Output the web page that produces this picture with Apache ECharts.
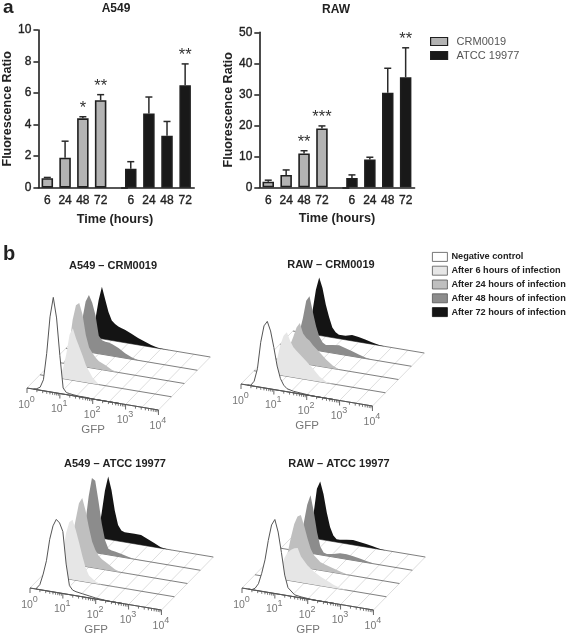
<!DOCTYPE html>
<html><head><meta charset="utf-8">
<style>html,body{margin:0;padding:0;background:#fff}#c{width:567px;height:636px}</style>
<script src="https://cdn.jsdelivr.net/npm/echarts@6/dist/echarts.min.js"></script>
</head><body><div id="c"></div>
<script>
const timeLabels = ['6','24','48','72'];
const strainNames = ['CRM0019','ATCC 19977'];
const a549CrmBars = [0.6,1.9,4.4,5.55];
const a549CrmUpper = [0.65,2.95,4.5,5.9];
const a549CrmStars = ['','','*','**'];
const a549AtccBars = [1.2,4.7,3.3,6.5];
const a549AtccUpper = [1.65,5.75,4.2,7.85];
const a549AtccStars = ['','','','**'];
const rawCrmBars = [1.8,4.0,10.9,19.0];
const rawCrmUpper = [2.3,5.6,11.8,19.8];
const rawCrmStars = ['','','**','***'];
const rawAtccBars = [3.0,9.0,30.5,35.5];
const rawAtccUpper = [4.0,9.7,38.4,45];
const rawAtccStars = ['','','','**'];

const infectionNames = ['Negative control','After 6 hours of infection','After 24 hours of infection','After 48 hours of infection','After 72 hours of infection'];
const gfpDecades = [0.2,0.3,0.4,0.5,0.6,0.7,0.8,0.9,1.0,1.1,1.2,1.3,1.4,1.6,1.8,2.0,2.2,2.4,2.6,2.8];
// counts per histogram, one value per entry of gfpDecades
const a549CrmNeg = [0,1,3,11,38,75,95,75,38,6,2,1.5,1,0.5,0.5,0,0,0,0,0];
const a549Crm6h  = [0,0,0,0,1,10,25,45,52,42,34,26,17,6,0,0,0,0,0,0];
const a549Crm24h = [0,0,5,20,45,60,63,52,32,20,15,11,8,5,1.5,0,0,0,0,0];
const a549Crm48h = [0,2,12,32,50,57,50,38,18,14,13,13,12,9,5,2,0,0,0,0];
const a549Crm72h = [0,0,0,18,38,52,40,28,20,17,15,14,13,10,7,4.5,2,0.5,0,0];
const rawCrmNeg = [0,0.5,5,18,45,62,67,58,42,24,12,6,3,1.5,1,0.5,0,0,0,0];
const rawCrm6h  = [0,0,0,0,3,15,30,40,44,36,30,27,24,18,12,5,1,0,0,0];
const rawCrm24h = [0,0,0,2,8,16,25,35,40,30,26,24,20,14,8,3,0,0,0,0];
const rawCrm48h = [0,0,0,5,16,30,48,53,38,24,14,9,7,8,9,7,5,3,1,0];
const rawCrm72h = [0,0,0,5,24,45,58,48,32,20,10,6,4,4,6,5,3.5,2,0.5,0];
const atccA549Neg = [1,5,16,30,52,66,73,70,62,30,9,5,4,3,2,1,0.5,0,0,0];
const atccA5496h  = [0,0,0,8,25,45,57,60,50,38,25,14,7,2,0,0,0,0,0,0];
const atccA54924h = [0,0,12,28,45,62,68,56,40,26,18,13,10,6,2,0,0,0,0,0];
const atccA54948h = [0,0,8,28,55,74,72,52,30,14,6,5,4.5,3,1.5,0,0,0,0,0];
const atccA54972h = [0,0,0,5,25,48,63,50,30,16,11,10,10,10,10,7,4,1,0,0];
const atccRawNeg = [0,0,2,7,18,32,52,68,74,62,42,20,8,2,1,0.5,0,0,0,0];
const atccRaw6h  = [0,0,0,0,1,4,12,22,28,31,33,34,26,18,13,9,6,3,1,0];
const atccRaw24h = [0,0,0,3,12,28,42,50,52,42,30,20,14,8,6,4,2,0.5,0,0];
const atccRaw48h = [0,0,0,4,14,30,48,58,42,22,8,3,2,3,5,5,4,3,1.5,0.5];
const atccRaw72h = [0,0,0,5,25,50,58,46,28,14,6,3,3,4,5,4,3,2,0.5,0];
const floorDecades = [0,0.5,1,1.5,2,2.5,3,3.5,4];
const floorDepths = [0,1,2,3,4];
const majorTicks = [0,1,2,3,4];
const minorTickFactors = [2,3,4,5,6,7,8,9];

const FONT = '"Liberation Sans", Arial, sans-serif';
const DARK = '#1f1f1f';
const GREY = '#b3b3b3';
const BLACK = '#191919';
const fills = ['#ffffff','#e6e6e6','#bfbfbf','#8c8c8c','#141414'];
const semiBold = {textBorderColor:'#222', textBorderWidth:0.35};

const series = [];
const grids = [], xAxes = [], yAxes = [];

function addBarGrid(left, width, top, height, cats, yMax, yInt, showY, name, color, bars, upper, stars) {
  const idx = grids.length;
  grids.push({left, width, top, height});
  xAxes.push({type:'category', gridIndex:idx, data:cats,
    axisLine:{lineStyle:{color:DARK,width:1.6}},
    axisTick:{length:5, alignWithLabel:true, interval:(i,v)=>v!=='', lineStyle:{color:DARK,width:1.5}},
    axisLabel:{interval:0, margin:7, fontFamily:FONT, fontSize:12, color:'#222', ...semiBold}});
  yAxes.push({type:'value', gridIndex:idx, min:0, max:yMax, interval:yInt, show:showY,
    name:'Fluorescence Ratio', nameLocation:'middle', nameGap:23,
    nameTextStyle:{fontFamily:FONT, fontSize:12.5, fontWeight:'bold', color:'#222'},
    splitLine:{show:false},
    axisLine:{show:true,lineStyle:{color:DARK,width:1.6}},
    axisTick:{show:true,length:5,lineStyle:{color:DARK,width:1.5}},
    axisLabel:{margin:7, fontFamily:FONT, fontSize:12, color:'#222', ...semiBold}});
  series.push({type:'bar', name, xAxisIndex:idx, yAxisIndex:idx, data:bars, barWidth:11.5,
    itemStyle:{color, borderColor:DARK, borderWidth:1.6}, silent:true});
  series.push({type:'custom', name:'err'+idx, xAxisIndex:idx, yAxisIndex:idx,
    data:bars.map((b,i)=>[i,b,upper[i]]), silent:true, z:1,
    renderItem(p,api){
      const a=api.coord([api.value(0),api.value(1)]), b=api.coord([api.value(0),api.value(2)]);
      const st={stroke:'#2a2a2a',lineWidth:1.5};
      const kids=[
        {type:'line',shape:{x1:a[0],y1:a[1],x2:b[0],y2:b[1]},style:st},
        {type:'line',shape:{x1:b[0]-3.5,y1:b[1],x2:b[0]+3.5,y2:b[1]},style:st}];
      const s=stars[p.dataIndex];
      if(s) kids.push({type:'text',x:b[0],y:b[1]-8,style:{text:s,fill:'#333',fontFamily:FONT,fontSize:16.5,align:'center',verticalAlign:'middle'}});
      return {type:'group',children:kids};
    }});
}
const blankCats = timeLabels.concat(['']);
addBarGrid(37.3,90,30,157.7,blankCats,10,2,true,strainNames[0],GREY,a549CrmBars,a549CrmUpper,a549CrmStars);
addBarGrid(121.7,72.5,30,157.7,timeLabels,10,2,false,strainNames[1],BLACK,a549AtccBars,a549AtccUpper,a549AtccStars);
addBarGrid(259.3,89.5,32.3,155,blankCats,50,10,true,strainNames[0],GREY,rawCrmBars,rawCrmUpper,rawCrmStars);
addBarGrid(343,71.6,32.3,155,timeLabels,50,10,false,strainNames[1],BLACK,rawAtccBars,rawAtccUpper,rawAtccStars);

// Pseudo-3D waterfall panels: projection of (decade, count, depth) into each panel's hidden axes
const SLOPE = 5.5, DEPTH_X = 0.395, DEPTH_Y = 13.25;
function projector(api, depth){
  return (dec,count)=>api.coord([dec+depth*DEPTH_X, count-dec*SLOPE+depth*DEPTH_Y]);
}
function addFlowPanel(left, base, hists){
  const idx = grids.length;
  grids.push({left, top:base-160, width:184, height:190});
  xAxes.push({type:'value', gridIndex:idx, min:0, max:5.6, show:false});
  yAxes.push({type:'value', gridIndex:idx, min:-30, max:160, show:false});
  const common={xAxisIndex:idx,yAxisIndex:idx,silent:true,type:'custom',clip:false};
  series.push({...common,name:'floorLines'+idx,data:floorDecades.map(d=>[d,0]),
    renderItem(p,api){
      const d=api.value(0), a=projector(api,0)(d,0), b=projector(api,4)(d,0);
      return {type:'line',shape:{x1:a[0],y1:a[1],x2:b[0],y2:b[1]},style:{stroke:'#d4d4d4',lineWidth:0.8}};
    }});
  series.push({...common,name:'floorBase'+idx,data:floorDepths.map(d=>[d,0]),
    renderItem(p,api){
      const pr=projector(api,api.value(0)), a=pr(0,0), b=pr(4,0);
      return {type:'line',shape:{x1:a[0],y1:a[1],x2:b[0],y2:b[1]},style:{stroke:'#707070',lineWidth:0.9}};
    }});
  for(let depth=4;depth>=0;depth--){
    const h=hists[depth];
    series.push({...common,name:infectionNames[depth],
      itemStyle:{color:fills[depth]},
      data:gfpDecades.map((d,i)=>[d,h[i]]),
      renderItem(p,api){
        if(p.dataIndexInside!==0) return null;
        const pr=projector(api,depth), pts=[pr(gfpDecades[0],0)];
        for(let i=0;i<gfpDecades.length;i++) pts.push(pr(api.value(0,i),api.value(1,i)));
        pts.push(pr(gfpDecades[gfpDecades.length-1],0));
        return {type:'polygon',shape:{points:pts},
          style:{fill:fills[depth],stroke:depth===0?'#555':null,lineWidth:depth===0?1:0}};
      }});
  }
  // front axis with log ticks and labels
  const minor=[];
  majorTicks.slice(0,4).forEach(m=>minorTickFactors.forEach(f=>minor.push(m+Math.log10(f))));
  series.push({...common,name:'minorTicks'+idx,data:minor.map(d=>[d,0]),
    renderItem(p,api){
      const a=projector(api,0)(api.value(0),0);
      return {type:'line',shape:{x1:a[0],y1:a[1],x2:a[0],y2:a[1]+2.5},style:{stroke:'#555',lineWidth:0.8}};
    }});
  series.push({...common,name:'majorTicks'+idx,data:majorTicks.map(d=>[d,0]),
    renderItem(p,api){
      const d=api.value(0), a=projector(api,0)(d,0), off=d===0?17:16;
      const kids=[{type:'line',shape:{x1:a[0],y1:a[1],x2:a[0],y2:a[1]+5},style:{stroke:'#555',lineWidth:0.9}},
        {type:'text',x:a[0]-3,y:a[1]+off,style:{text:'10',fill:'#777',fontFamily:FONT,fontSize:10.5,align:'center',verticalAlign:'middle'}},
        {type:'text',x:a[0]+5.2,y:a[1]+off-5.5,style:{text:String(d),fill:'#777',fontFamily:FONT,fontSize:9,align:'center',verticalAlign:'middle'}}];
      if(d===0){
        kids.push({type:'line',shape:{x1:a[0],y1:a[1],x2:projector(api,0)(4,0)[0],y2:projector(api,0)(4,0)[1]},style:{stroke:'#555',lineWidth:1}});
        kids.push({type:'text',x:a[0]+66,y:a[1]+41.5,style:{text:'GFP',fill:'#777',fontFamily:FONT,fontSize:11.5,align:'center',verticalAlign:'middle'}});
      }
      return {type:'group',children:kids};
    }});
}
addFlowPanel(27,388,[a549CrmNeg,a549Crm6h,a549Crm24h,a549Crm48h,a549Crm72h]);
addFlowPanel(241,384,[rawCrmNeg,rawCrm6h,rawCrm24h,rawCrm48h,rawCrm72h]);
addFlowPanel(30,588,[atccA549Neg,atccA5496h,atccA54924h,atccA54948h,atccA54972h]);
addFlowPanel(242,588,[atccRawNeg,atccRaw6h,atccRaw24h,atccRaw48h,atccRaw72h]);

function t(text,left,top,size,weight,align){
  return {text,left,top,padding:0,textAlign:align||'center',textVerticalAlign:'middle',
    textStyle:{fontFamily:FONT,fontSize:size,fontWeight:weight||'bold',color:'#222'}};
}
const titles=[
  t('a',3,8,19,'bold','left'), t('b',3,254,20,'bold','left'),
  t('A549',116,9,12,'bold'), t('RAW',336,10,12,'bold'),
  t('Time (hours)',115,219,12.7,'bold'), t('Time (hours)',337,218,12.7,'bold'),
  t('A549 – CRM0019',113,266,11,'bold'), t('RAW – CRM0019',331,265,11,'bold'),
  t('A549 – ATCC 19977',115,464,11,'bold'), t('RAW – ATCC 19977',339,464,11,'bold')
];

const chart=echarts.init(document.getElementById('c'),null,{renderer:'canvas'});
chart.setOption({
  animation:false, backgroundColor:'#fff',
  title:titles, grid:grids, xAxis:xAxes, yAxis:yAxes, series,
  legend:[
    {orient:'vertical',left:430,top:36,selectedMode:false,itemWidth:17,itemHeight:8,itemGap:3,padding:0,
     icon:'rect',textStyle:{fontFamily:FONT,fontSize:11,color:'#555',padding:[0,0,0,4]},
     data:[{name:strainNames[0],itemStyle:{color:GREY,borderColor:DARK,borderWidth:1.2}},
           {name:strainNames[1],itemStyle:{color:BLACK,borderColor:DARK,borderWidth:1.2}}]},
    {orient:'vertical',left:432,top:252,selectedMode:false,itemWidth:15,itemHeight:9,itemGap:4,padding:0,
     icon:'rect',textStyle:{fontFamily:FONT,fontSize:9.2,fontWeight:'bold',color:'#222',padding:[0,0,0,-1]},
     data:infectionNames.map((n,i)=>({name:n,itemStyle:{color:fills[i],borderColor:i===4?'#111':'#555',borderWidth:0.8}}))}
  ]
});
</script></body></html>
